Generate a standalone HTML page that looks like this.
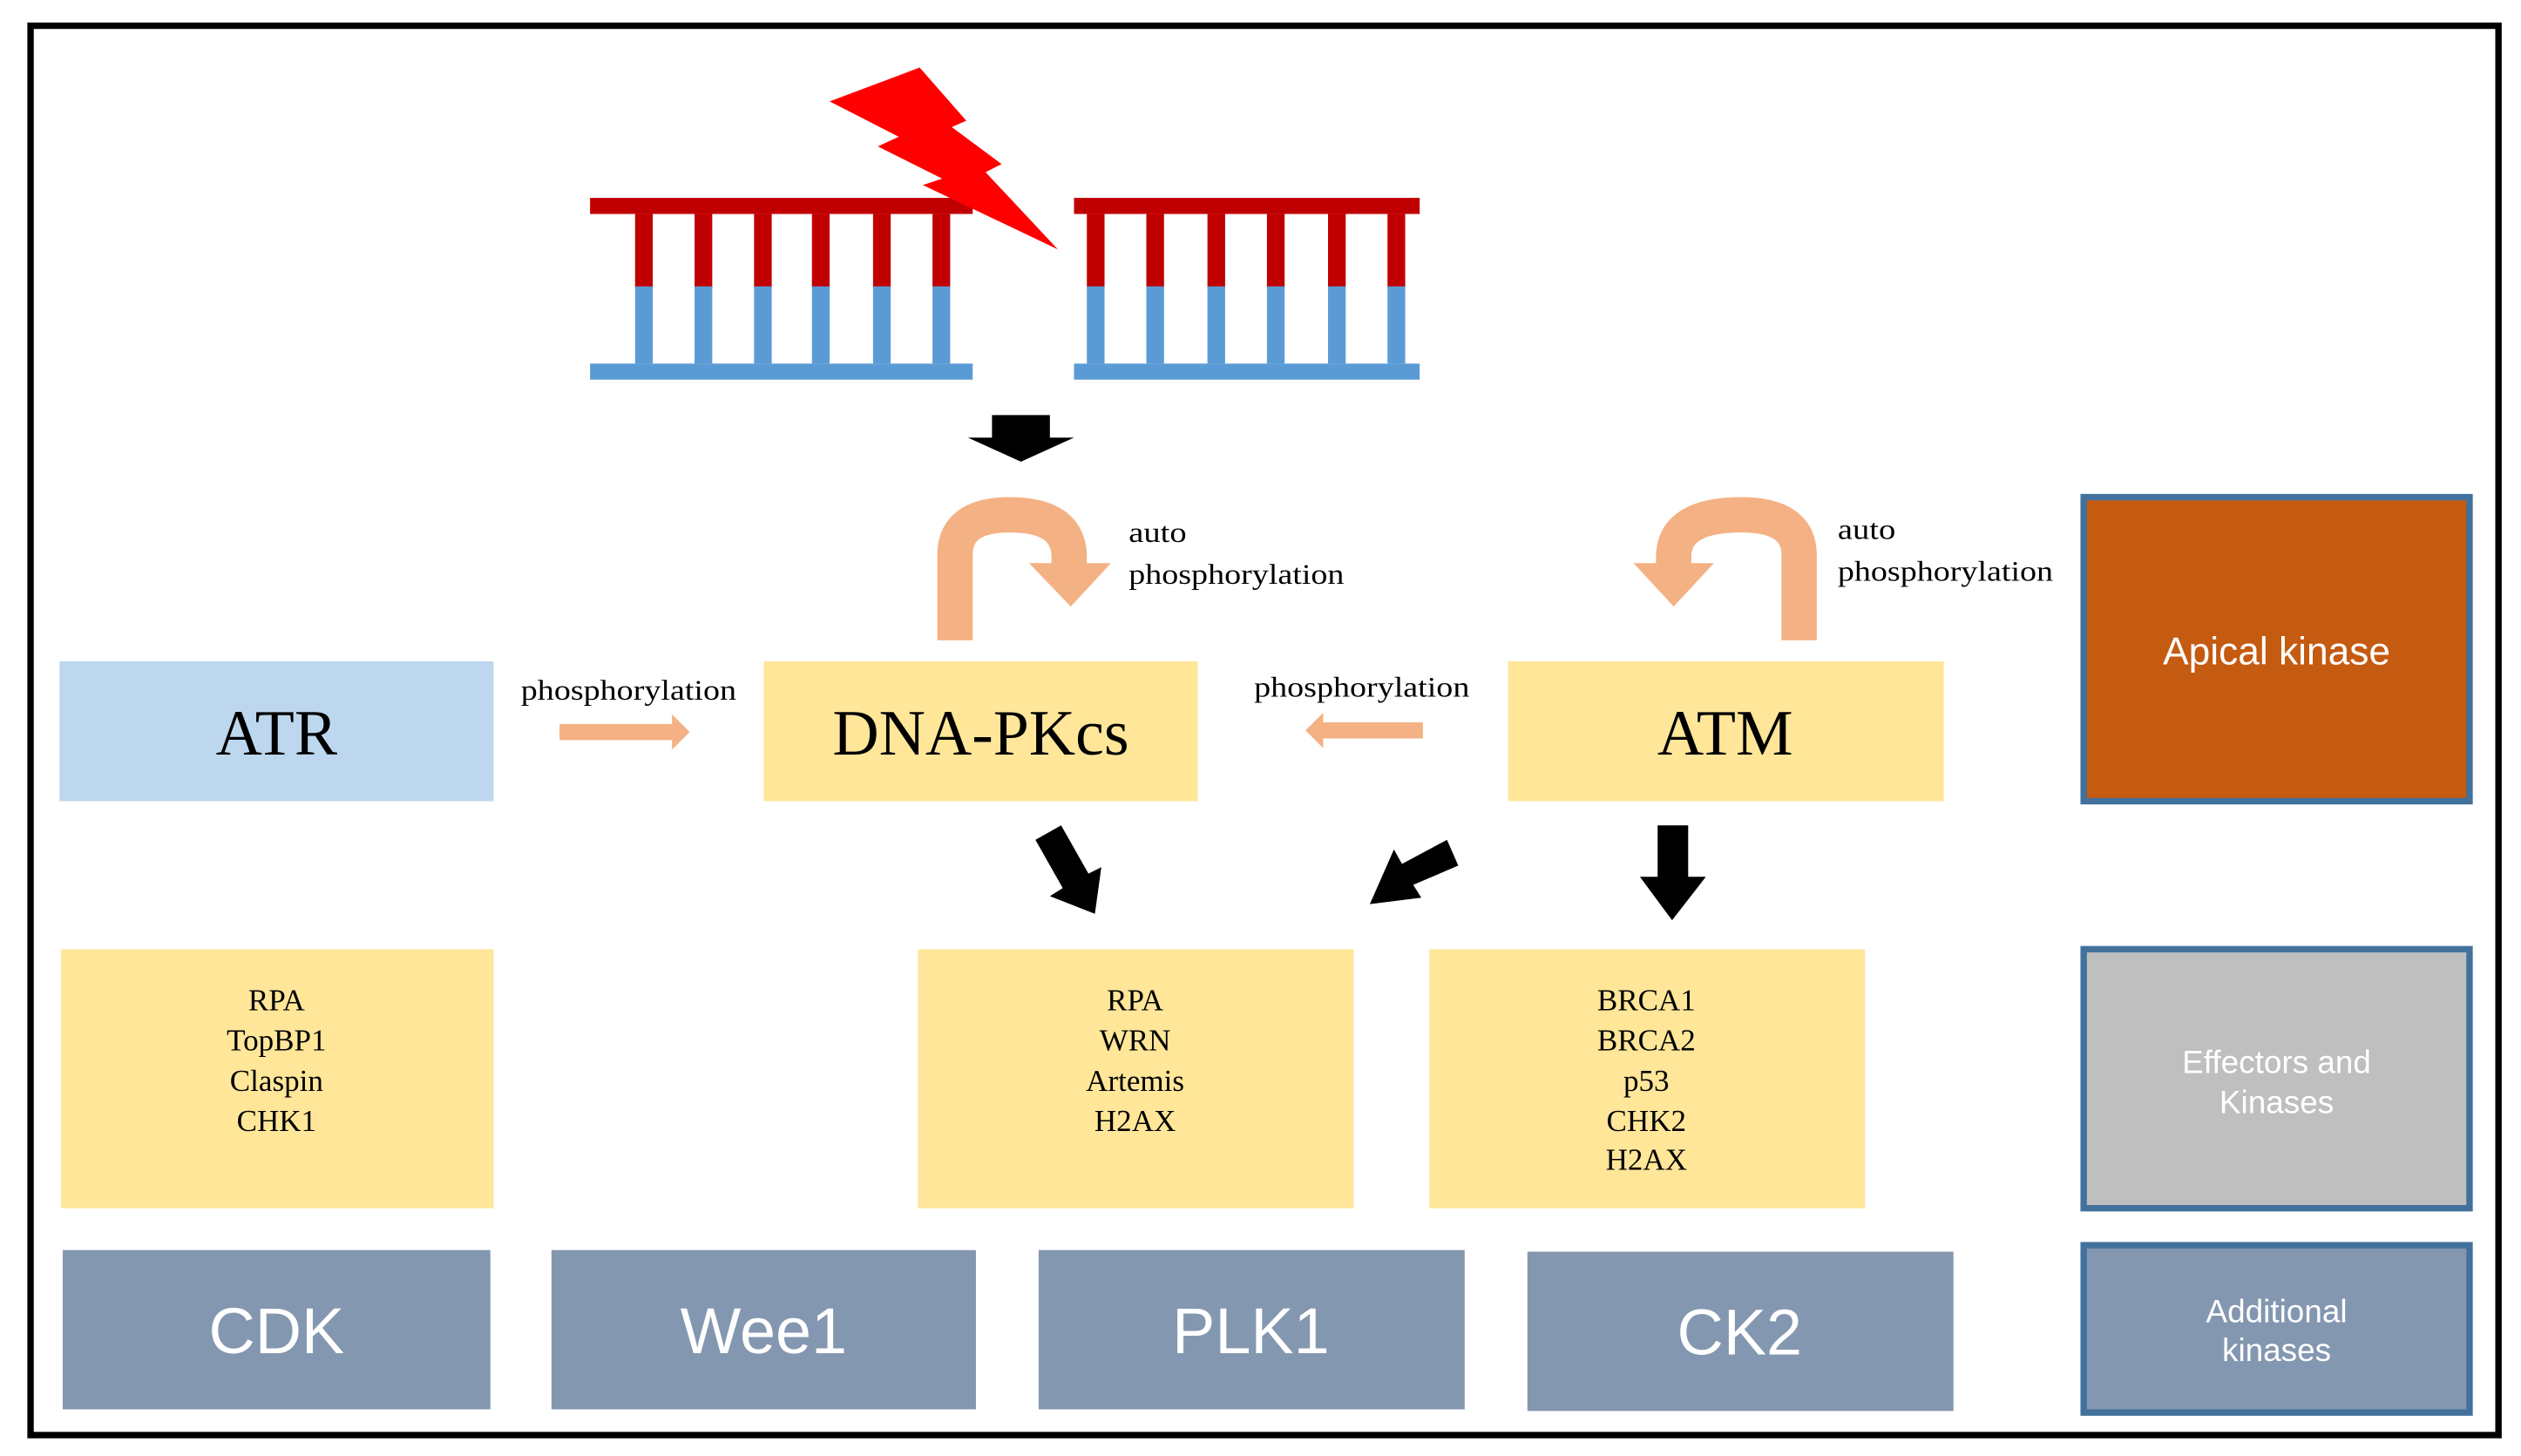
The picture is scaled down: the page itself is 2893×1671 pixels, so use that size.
<!DOCTYPE html>
<html><head><meta charset="utf-8"><style>html,body{margin:0;padding:0;background:#fff}svg{display:block}</style></head>
<body>
<svg width="2893" height="1671" viewBox="0 0 1568 905" preserveAspectRatio="none" xmlns="http://www.w3.org/2000/svg">
<rect x="0" y="0" width="1568" height="905" fill="#fff"/>
<rect x="19" y="16" width="1535" height="876" fill="none" stroke="#000" stroke-width="4"/>
<g>
<rect x="367" y="123" width="238" height="10" fill="#C00000"/>
<rect x="367" y="226" width="238" height="10" fill="#5B9BD5"/>
<rect x="668" y="123" width="215" height="10" fill="#C00000"/>
<rect x="668" y="226" width="215" height="10" fill="#5B9BD5"/>
<g fill="#C00000">
<rect x="395" y="133" width="11" height="46"/><rect x="432" y="133" width="11" height="46"/><rect x="469" y="133" width="11" height="46"/><rect x="505" y="133" width="11" height="46"/><rect x="543" y="133" width="11" height="46"/><rect x="580" y="133" width="11" height="46"/>
<rect x="676" y="133" width="11" height="46"/><rect x="713" y="133" width="11" height="46"/><rect x="751" y="133" width="11" height="46"/><rect x="788" y="133" width="11" height="46"/><rect x="826" y="133" width="11" height="46"/><rect x="863" y="133" width="11" height="46"/>
</g>
<g fill="#5B9BD5">
<rect x="395" y="178" width="11" height="48"/><rect x="432" y="178" width="11" height="48"/><rect x="469" y="178" width="11" height="48"/><rect x="505" y="178" width="11" height="48"/><rect x="543" y="178" width="11" height="48"/><rect x="580" y="178" width="11" height="48"/>
<rect x="676" y="178" width="11" height="48"/><rect x="713" y="178" width="11" height="48"/><rect x="751" y="178" width="11" height="48"/><rect x="788" y="178" width="11" height="48"/><rect x="826" y="178" width="11" height="48"/><rect x="863" y="178" width="11" height="48"/>
</g>
<polygon fill="#FF0000" points="572,42 601,75 592,79 623,102 613,107 658,155 574,115 586,111 546,91 559,85 516,63"/>
</g>
<polygon fill="#000" points="617,258 653,258 653,272 668,272 635,287 602,272 617,272"/>
<path d="M594 398 V345 Q594 320 628 320 Q664 320 665 345 V352" fill="none" stroke="#F4B183" stroke-width="22"/>
<polygon fill="#F4B183" points="640,350 691,350 666,377"/>
<path d="M1119 398 V345 Q1119 320 1083 320 Q1042 320 1041 345 V352" fill="none" stroke="#F4B183" stroke-width="22"/>
<polygon fill="#F4B183" points="1016,350 1066,350 1041,377"/>
<g font-family="Liberation Serif, serif" font-size="18" fill="#000">
<text x="702" y="337" textLength="36" lengthAdjust="spacingAndGlyphs">auto</text><text x="702" y="363" textLength="134" lengthAdjust="spacingAndGlyphs">phosphorylation</text>
<text x="1143" y="335" textLength="36" lengthAdjust="spacingAndGlyphs">auto</text><text x="1143" y="361" textLength="134" lengthAdjust="spacingAndGlyphs">phosphorylation</text>
<text x="324" y="435" textLength="134" lengthAdjust="spacingAndGlyphs">phosphorylation</text>
<text x="780" y="433" textLength="134" lengthAdjust="spacingAndGlyphs">phosphorylation</text>
</g>
<polygon fill="#F4B183" points="348,450 418,450 418,444 429,455 418,466 418,460 348,460"/>
<polygon fill="#F4B183" points="885,449 823,449 823,443 812,454 823,465 823,459 885,459"/>
<rect x="37" y="411" width="270" height="87" fill="#BDD7EE"/>
<rect x="475" y="411" width="270" height="87" fill="#FFE699"/>
<rect x="938" y="411" width="271" height="87" fill="#FFE699"/>
<g font-family="Liberation Serif, serif" font-size="40" fill="#000" text-anchor="middle">
<text x="172" y="469">ATR</text><text x="610" y="469">DNA-PKcs</text><text x="1073" y="469">ATM</text>
</g>
<polygon fill="#000" points="660,513 677,543 685,539 681,568 653,557 661,552 644,522"/>
<polygon fill="#000" points="907,538 900,522 872,537 867,528 852,562 884,558 879,550"/>
<polygon fill="#000" points="1031,513 1050,513 1050,545 1061,545 1040,572 1020,545 1031,545"/>
<rect x="38" y="590" width="269" height="161" fill="#FFE699"/>
<rect x="571" y="590" width="271" height="161" fill="#FFE699"/>
<rect x="889" y="590" width="271" height="161" fill="#FFE699"/>
<g font-family="Liberation Serif, serif" font-size="19" fill="#000" text-anchor="middle">
<text x="172" y="628">RPA</text><text x="172" y="653">TopBP1</text><text x="172" y="678">Claspin</text><text x="172" y="703">CHK1</text>
<text x="706" y="628">RPA</text><text x="706" y="653">WRN</text><text x="706" y="678">Artemis</text><text x="706" y="703">H2AX</text>
<text x="1024" y="628">BRCA1</text><text x="1024" y="653">BRCA2</text><text x="1024" y="678">p53</text><text x="1024" y="703">CHK2</text><text x="1024" y="727">H2AX</text>
</g>
<g fill="#8497B0">
<rect x="39" y="777" width="266" height="99"/><rect x="343" y="777" width="264" height="99"/><rect x="646" y="777" width="265" height="99"/><rect x="950" y="778" width="265" height="99"/>
</g>
<g font-family="Liberation Sans, sans-serif" font-size="40" fill="#fff" text-anchor="middle">
<text x="172" y="841">CDK</text><text x="475" y="841">Wee1</text><text x="778" y="841">PLK1</text><text x="1082" y="842">CK2</text>
</g>
<rect x="1296" y="309" width="240" height="189" fill="#C55A11" stroke="#41719C" stroke-width="4"/>
<rect x="1296" y="590" width="240" height="161" fill="#BFBFBF" stroke="#41719C" stroke-width="4"/>
<rect x="1296" y="774" width="240" height="104" fill="#8497B0" stroke="#41719C" stroke-width="4"/>
<g font-family="Liberation Sans, sans-serif" fill="#fff" text-anchor="middle">
<text x="1416" y="413" font-size="24">Apical kinase</text>
<text x="1416" y="667" font-size="20">Effectors and</text><text x="1416" y="692" font-size="20">Kinases</text>
<text x="1416" y="822" font-size="20">Additional</text><text x="1416" y="846" font-size="20">kinases</text>
</g>
</svg>
</body></html>
